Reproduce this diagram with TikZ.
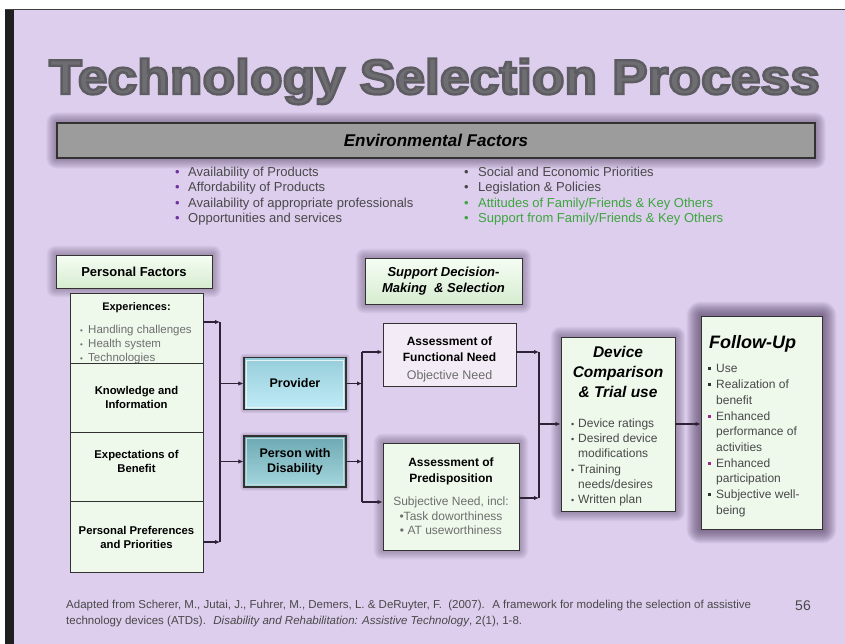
\documentclass[tikz,border=0pt]{standalone}
\usepackage{fontspec}
\setmainfont{Liberation Sans}
\newfontfamily\headfont{Liberation Sans Bold}
\usetikzlibrary{arrows.meta,calc}
\pgfdeclarelayer{backdrop}
\pgfdeclarelayer{halo}
\pgfsetlayers{backdrop,halo,main}

\definecolor{slidebg}{RGB}{221,206,238}
\definecolor{haloc}{RGB}{80,60,95}
\definecolor{minttop}{RGB}{246,253,244}
\definecolor{mintbot}{RGB}{214,236,208}
\definecolor{mint}{RGB}{238,249,235}
\definecolor{paleviolet}{RGB}{243,235,245}
\definecolor{envgray}{RGB}{156,156,156}
\definecolor{bodygray}{RGB}{72,72,72}
\definecolor{lightgray}{RGB}{110,110,110}
\definecolor{bulletviolet}{RGB}{112,48,160}
\definecolor{attgreen}{RGB}{60,165,60}
\definecolor{wire}{RGB}{45,35,55}
\definecolor{edge}{RGB}{50,50,50}
\definecolor{provtop}{RGB}{150,205,218}
\definecolor{provbot}{RGB}{192,236,246}
\definecolor{pwdtop}{RGB}{108,168,178}
\definecolor{pwdbot}{RGB}{165,215,222}
\definecolor{magbullet}{RGB}{160,40,140}
\definecolor{titlegray}{RGB}{110,110,114}

% heavy heading text: fill in the current colour, stroke in a slightly darker grey
\newcommand\outlined[1]{\special{pdf:literal direct 2 Tr 2.4 w 0.36 0.36 0.38 RG}#1\special{pdf:literal direct 0 Tr}}

% soft purple glow around a named node
\newcommand\haloround[3]{%
  \begin{pgfonlayer}{halo}
    \foreach \r in {1,...,#2}{
      \fill[haloc, opacity=#3, rounded corners=\r pt]
        ($(#1.south west)+(-\r pt,-\r pt)$) rectangle ($(#1.north east)+(\r pt,\r pt)$);
    }
  \end{pgfonlayer}}

\tikzset{
  boxframe/.style={draw=edge, line width=0.9pt, inner sep=0pt, align=center},
  link/.style={draw=wire, line width=1.1pt},
  flow/.style={link, -{Latex[length=5pt,width=4.5pt]}},
  txt/.style={inner sep=0pt, align=center},
  envline/.style={inner sep=0pt, anchor=base west, font=\fontsize{13}{15}\selectfont},
  boxhead/.style={txt, font=\fontsize{11.3}{14}\selectfont\bfseries, text=black},
  bodytxt/.style={inner sep=0pt, font=\fontsize{12}{14}\selectfont, text=lightgray},
  teal3d/.style={boxframe, line width=1.1pt, minimum width=102, minimum height=52},
}

\begin{document}
\begin{tikzpicture}[x=1pt,y=-1pt]
\useasboundingbox (0,0) rectangle (845,644);

% slide background
\begin{pgfonlayer}{backdrop}
  \fill[white] (0,0) rectangle (845,644);
  \fill[slidebg] (14,10) rectangle (845,644);
  \fill[black!88] (5,9) rectangle (14,644);
  \fill[black!75] (5,9) rectangle (845,10.5);
\end{pgfonlayer}

% title
\node[txt, anchor=base, font=\fontsize{49}{49}\headfont, text=titlegray, xscale=1.09]
  (title) at (434.5,94) {\outlined{Technology Selection Process}};

% environmental factors
\node[boxframe, fill=envgray, line width=1.2pt, minimum width=758, minimum height=35] (env) at (436,140.5) {};
\node[txt, font=\fontsize{17}{18}\selectfont\bfseries\itshape] (envT) at (env) {Environmental Factors};
\haloround{env}{10}{0.06}

\foreach \t/\yy [count=\i] in {{Availability of Products}/176.5, {Affordability of Products}/191.5,
    {Availability of appropriate professionals}/207.5, {Opportunities and services}/222.5}{
  \node[envline, text=bulletviolet] (envLb\i) at (175,\yy) {\textbullet};
  \node[envline, text=bodygray] (envL\i) at (188,\yy) {\t};
}
\foreach \t/\yy/\c [count=\i] in {{Social and Economic Priorities}/176.5/bodygray, {Legislation \& Policies}/191.5/bodygray,
    {Attitudes of Family/Friends \& Key Others}/207.5/attgreen, {Support from Family/Friends \& Key Others}/222.5/attgreen}{
  \node[envline, text=\c] (envRb\i) at (464,\yy) {\textbullet};
  \node[envline, text=\c] (envR\i) at (478,\yy) {\t};
}

% personal factors
\node[boxframe, top color=minttop, bottom color=mintbot, minimum width=156, minimum height=33,
      font=\fontsize{13}{15}\selectfont\bfseries] (pfhead) at (134,271.5) {Personal Factors};
\haloround{pfhead}{9}{0.05}

\node[boxframe, fill=mint, minimum width=133, minimum height=70] (exp) at (136.5,328) {};
\node[boxframe, fill=mint, minimum width=133, minimum height=69] (know) at (136.5,397.5) {};
\node[boxframe, fill=mint, minimum width=133, minimum height=69] (expect) at (136.5,466.5) {};
\node[boxframe, fill=mint, minimum width=133, minimum height=71] (pref) at (136.5,536.5) {};

\node[boxhead, font=\fontsize{11}{13}\selectfont\bfseries] (expT) at (136.5,308) {Experiences:};
\foreach \t/\yy [count=\i] in {{Handling challenges}/333, {Health system}/347, {Technologies}/361}{
  \node[bodytxt, anchor=base west, font=\fontsize{8}{10}\selectfont] (expb\i) at (80,\yy) {\textbullet};
  \node[bodytxt, anchor=base west, font=\fontsize{11.5}{14}\selectfont] (expL\i) at (88,\yy) {\t};
}
\node[boxhead] (knowT) at (136.5,397) {Knowledge and\\Information};
\node[boxhead] (expectT) at (136.5,461) {Expectations of\\Benefit};
\node[boxhead] (prefT) at (136.5,537) {Personal Preferences\\and Priorities};

% provider and person with disability
\node[teal3d, top color=provtop, bottom color=provbot] (prov) at (295,383.5) {};
\node[teal3d, top color=pwdtop, bottom color=pwdbot, minimum height=51] (pwd) at (295,461.5) {};
\draw[white!75!provtop, line width=0.8pt] ($(prov.south west)+(3pt,3pt)$) rectangle ($(prov.north east)+(-3pt,-3pt)$);
\draw[white!60!pwdtop, line width=0.8pt] ($(pwd.south west)+(3pt,3pt)$) rectangle ($(pwd.north east)+(-3pt,-3pt)$);
\node[boxhead, font=\fontsize{12.5}{15}\selectfont\bfseries] (provT) at (prov) {Provider};
\node[boxhead, font=\fontsize{12.5}{15}\selectfont\bfseries] (pwdT) at (pwd) {Person with\\Disability};
\haloround{prov}{3}{0.08}
\haloround{pwd}{3}{0.08}

% support decision-making
\node[boxframe, top color=minttop, bottom color=mintbot, minimum width=157, minimum height=46,
      font=\fontsize{13}{16}\selectfont\bfseries\itshape] (sdhead) at (443.5,281)
  {Support Decision-\\Making~ \& Selection};
\haloround{sdhead}{9}{0.05}

\node[boxframe, fill=paleviolet, minimum width=133, minimum height=63] (fneed) at (449.5,354.5) {};
\node[boxhead, font=\fontsize{12}{16}\selectfont\bfseries] (fneedT) at (449.5,349) {Assessment of\\Functional Need};
\node[bodytxt, font=\fontsize{12.5}{14}\selectfont] (fneedS) at (449.5,376) {Objective Need};

\node[boxframe, fill=mint, minimum width=136, minimum height=107] (pred) at (451,496.5) {};
\node[boxhead, font=\fontsize{12}{16}\selectfont\bfseries] (predT) at (451,471) {Assessment of\\Predisposition};
\node[bodytxt, align=center, font=\fontsize{12}{14.5}\selectfont] (predS) at (451,516)
  {Subjective Need, incl:\\\textbullet Task doworthiness\\\textbullet\ AT useworthiness};
\haloround{pred}{9}{0.05}

% device comparison
\node[boxframe, fill=mint, minimum width=114, minimum height=174] (dev) at (618,424) {};
\node[txt, font=\fontsize{15.5}{20}\selectfont\bfseries\itshape] (devT) at (618,372) {Device\\Comparison\\\& Trial use};
\foreach \yy/\b/\t [count=\i] in {427/\textbullet/{Device ratings}, 442/\textbullet/{Desired device}, 457/{}/{modifications},
    473/\textbullet/{Training}, 488/{}/{needs/desires}, 503/\textbullet/{Written plan}}{
  \node[bodytxt, anchor=base west, text=bodygray, font=\fontsize{9}{10}\selectfont] (devb\i) at (571,\yy) {\b};
  \node[bodytxt, anchor=base west, text=bodygray] (devL\i) at (578,\yy) {\t};
}
\haloround{dev}{10}{0.055}

% follow-up
\node[boxframe, fill=mint, minimum width=121, minimum height=213] (fup) at (761.5,422.5) {};
\node[txt, anchor=base west, font=\fontsize{18}{20}\selectfont\bfseries\itshape] (fupT) at (709,348.5) {Follow-Up};
\foreach \yy/\t [count=\i] in {372/{Use}, 388/{Realization of}, 404/{benefit}, 420/{Enhanced},
    435/{performance of}, 451/{activities}, 467/{Enhanced}, 482/{participation},
    498/{Subjective well-}, 514/{being}}{
  \node[bodytxt, anchor=base west, text=bodygray, font=\fontsize{12}{14}\selectfont] (fupL\i) at (716,\yy) {\t};
}
\foreach \yy/\c [count=\i] in {372/black!80, 388/black!80, 420/magbullet, 467/magbullet, 498/black!80}{
  \fill[\c] (707.5,\yy-5.5) rectangle (710.5,\yy-2.5) coordinate (fupb\i);
}
\haloround{fup}{14}{0.065}

% connectors: personal factors to the two parties
\coordinate (busA1) at (220,322);
\coordinate (busA2) at (220,542);
\draw[flow] (exp.east |- busA1) -- (busA1);
\draw[flow] (pref.east |- busA2) -- (busA2);
\draw[link] (busA1) -- (busA2);
\draw[flow] (busA1 |- prov.west) -- (prov.west);
\draw[flow] (busA1 |- pwd.west) -- (pwd.west);

% parties to the two assessments
\coordinate (busB1) at (362,352);
\coordinate (busB2) at (362,502);
\draw[flow] (prov.east) -- (busB1 |- prov.east);
\draw[flow] (pwd.east) -- (busB1 |- pwd.east);
\draw[link] (busB1) -- (busB2);
\draw[flow] (busB1) -- (busB1 -| fneed.west);
\draw[flow] (busB2) -- (busB2 -| pred.west);

% assessments to device comparison
\coordinate (busC1) at (539,352);
\coordinate (busC2) at (539,498);
\draw[flow] (fneed.east |- busC1) -- (busC1);
\draw[flow] (pred.east |- busC2) -- (busC2);
\draw[link] (busC1) -- (busC2);
\draw[flow] (busC1 |- dev.west) -- (dev.west);
\draw[flow] (dev.east) -- (dev.east -| fup.west);

% reference line and page number
\node[inner sep=0pt, anchor=base west, text=bodygray, font=\fontsize{11.5}{14}\selectfont] (cite1) at (66,608)
  {Adapted from Scherer, M., Jutai, J., Fuhrer, M., Demers, L. \& DeRuyter, F.~ (2007).~ A framework for modeling the selection of assistive};
\node[inner sep=0pt, anchor=base west, text=bodygray, font=\fontsize{11.5}{14}\selectfont] (cite2) at (66,624)
  {technology devices (ATDs).~ \textit{Disability and Rehabilitation: Assistive Technology}, 2(1), 1-8.};
\node[inner sep=0pt, anchor=base, text=bodygray, font=\fontsize{14}{14}\selectfont] (pageno) at (803,610) {56};
\end{tikzpicture}
\end{document}
